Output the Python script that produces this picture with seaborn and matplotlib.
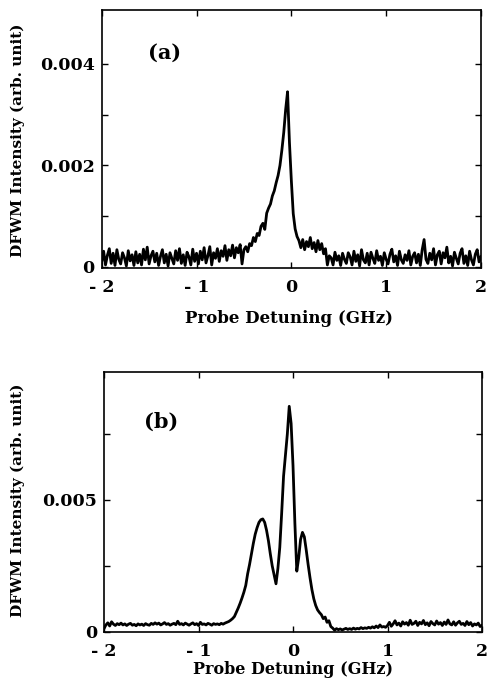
import numpy as np
import pandas as pd
import matplotlib
matplotlib.use("Agg")
import matplotlib.pyplot as plt
import seaborn as sns

# ---------------- data (intensities in units of 1e-4, arb. unit) ----------------
detuning_min, detuning_max = -2.0, 2.0   # GHz, sampled every 0.02 GHz

intensity_a_e4 = [
    1.0, 3.1, 0.4, 2.3, 3.6, 0.7, 2.7, 0.3, 3.4, 1.5,      # -2.00 .. -1.82
    0.6, 2.8, 1.8, 0.2, 3.2, 1.2, 2.4, 0.3, 3.0, 0.8,      # -1.80 .. -1.62
    2.5, 0.4, 3.5, 1.4, 3.9, 0.6, 2.2, 3.1, 1.0, 2.7,      # -1.60 .. -1.42
    0.3, 2.1, 3.4, 0.8, 2.5, 0.2, 2.8, 1.7, 0.6, 3.2,      # -1.40 .. -1.22
    1.3, 3.6, 0.7, 2.4, 0.3, 2.9, 2.0, 0.4, 3.5, 1.1,      # -1.20 .. -1.02
    2.7, 0.6, 3.1, 1.4, 3.8, 0.8, 2.2, 4.0, 0.4, 2.8,      # -1.00 .. -0.82
    1.7, 3.6, 1.1, 3.2, 2.1, 4.2, 1.3, 3.4, 2.2, 4.3,      # -0.80 .. -0.62
    1.8, 3.8, 2.8, 4.4, 0.6, 3.4, 4.0, 3.0, 4.6, 4.2,      # -0.60 .. -0.42
    5.8, 5.0, 6.6, 6.2, 8.0, 8.6, 7.4, 10.6, 11.6, 12.4,   # -0.40 .. -0.22
    14.0, 15.0, 16.6, 18.0, 20.0, 23.0, 26.5, 31.0, 34.5, 24.5,  # -0.20 .. -0.02
    17.0, 10.5, 7.5, 6.0, 5.2, 3.8, 5.4, 3.4, 5.0, 4.0,    # 0.00 .. 0.18
    5.8, 3.6, 4.8, 3.0, 5.2, 3.4, 4.6, 2.6, 3.6, 0.4,      # 0.20 .. 0.38
    2.2, 1.8, 0.4, 2.9, 1.3, 2.2, 0.3, 2.7, 1.5, 0.7,      # 0.40 .. 0.58
    2.8, 2.0, 0.4, 3.1, 1.1, 2.4, 0.2, 3.4, 1.4, 0.8,      # 0.60 .. 0.78
    2.7, 0.4, 2.9, 1.7, 0.7, 3.2, 1.3, 2.1, 0.3, 2.8,      # 0.80 .. 0.98
    1.5, 0.6, 2.5, 3.5, 1.0, 2.2, 0.3, 3.1, 1.4, 0.7,      # 1.00 .. 1.18
    2.4, 1.3, 3.2, 0.4, 2.1, 2.8, 0.8, 2.5, 0.3, 3.4,      # 1.20 .. 1.38
    5.4, 1.5, 0.7, 2.7, 1.4, 3.6, 0.4, 2.4, 3.1, 0.6,      # 1.40 .. 1.58
    2.8, 1.8, 3.9, 0.8, 2.1, 0.2, 2.9, 1.7, 0.6, 2.7,      # 1.60 .. 1.78
    3.6, 0.7, 2.2, 0.3, 3.1, 1.4, 0.4, 2.5, 3.4, 1.0,      # 1.80 .. 1.98
    2.1,                                                   # 2.00
]

intensity_b_e4 = [
    1.2, 2.6, 3.4, 2.2, 3.8, 2.9, 2.4, 3.1, 2.7, 3.3,      # -2.00 .. -1.82
    2.6, 3.0, 2.4, 2.9, 3.2, 2.5, 2.8, 2.3, 3.0, 2.6,      # -1.80 .. -1.62
    2.9, 2.4, 3.1, 2.7, 2.5, 3.2, 2.8, 3.4, 2.9, 3.3,      # -1.60 .. -1.42
    2.6, 3.0, 3.5, 2.8, 3.1, 2.5, 2.9, 3.2, 2.7, 4.0,      # -1.40 .. -1.22
    2.8, 3.1, 2.6, 3.3, 2.9, 2.5, 3.0, 3.4, 2.7, 3.1,      # -1.20 .. -1.02
    2.4, 3.6, 2.8, 3.0, 2.6, 3.2, 2.9, 2.5, 3.1, 2.8,      # -1.00 .. -0.82
    3.0, 2.7, 3.2, 2.9, 3.3, 3.6, 3.9, 4.4, 5.0, 5.8,      # -0.80 .. -0.62
    7.4, 9.0, 10.8, 12.8, 15.0, 17.6, 22.0, 25.5, 29.5, 33.5,   # -0.60 .. -0.42
    37.0, 39.5, 41.5, 42.5, 42.8, 41.5, 38.5, 34.5, 29.5, 25.0, # -0.40 .. -0.22
    21.5, 18.2, 24.0, 32.0, 45.0, 59.0, 67.0, 75.0, 85.5, 79.0, # -0.20 .. -0.02
    63.0, 41.0, 23.0, 28.0, 35.0, 37.7, 36.0, 31.0, 25.5, 20.5, # 0.00 .. 0.18
    16.0, 12.5, 10.0, 8.3, 7.3, 6.5, 5.0, 5.6, 3.6, 4.2,   # 0.20 .. 0.38
    2.0, 1.4, 0.6, 1.2, 0.8, 1.1, 0.7, 1.0, 1.3, 0.9,      # 0.40 .. 0.58
    1.2, 0.9, 1.4, 1.0, 1.3, 1.1, 1.6, 1.2, 1.5, 1.3,      # 0.60 .. 0.78
    1.7, 1.4, 1.9, 1.5, 2.2, 1.6, 2.6, 1.8, 2.0, 1.7,      # 0.80 .. 0.98
    2.4, 3.6, 2.1, 3.0, 4.2, 2.6, 3.3, 2.2, 3.8, 2.9,      # 1.00 .. 1.18
    3.5, 2.5, 4.4, 2.8, 3.2, 4.0, 2.4, 3.6, 3.0, 4.3,      # 1.20 .. 1.38
    2.7, 3.4, 2.3, 3.9, 3.1, 2.6, 4.1, 2.9, 3.5, 2.4,      # 1.40 .. 1.58
    3.7, 2.8, 4.5, 3.0, 2.6, 3.8, 2.5, 3.4, 4.0, 2.8,      # 1.60 .. 1.78
    3.2, 2.4, 3.9, 2.7, 3.5, 2.2, 3.0, 2.6, 3.3, 2.0,      # 1.80 .. 1.98
    2.5,                                                   # 2.00
]

x_ticks = [-2, -1, 0, 1, 2]
x_ticklabels = ["- 2", "- 1", "0", "1", "2"]
y_ticks_a = [0, 0.001, 0.002, 0.003, 0.004]
y_ticklabels_a = ["0", "", "0.002", "", "0.004"]
y_ticks_b = [0, 0.0025, 0.005, 0.0075]
y_ticklabels_b = ["0", "", "0.005", ""]
panel_labels = ["(a)", "(b)"]
xlabel = "Probe Detuning (GHz)"
ylabel = "DFWM Intensity (arb. unit)"

assert len(intensity_a_e4) == 201 and len(intensity_b_e4) == 201


def make_frame(vals_e4):
    det = np.linspace(detuning_min, detuning_max, len(vals_e4))
    return pd.DataFrame({"detuning": det, "intensity": np.asarray(vals_e4) * 1e-4})


df_a = make_frame(intensity_a_e4)
df_b = make_frame(intensity_b_e4)

# ---------------- style ----------------
sns.set_theme(style="ticks")
plt.rcParams["font.family"] = ["DejaVu Serif"]
plt.rcParams["font.weight"] = "bold"

fig = plt.figure(figsize=(4.89, 6.8), dpi=100)
fig.patch.set_facecolor("white")
ax_a = fig.add_axes([0.208, 0.6059, 0.7756, 0.3794])
ax_b = fig.add_axes([0.2127, 0.0701, 0.7730, 0.3828])

sns.lineplot(data=df_a, x="detuning", y="intensity", ax=ax_a,
             color="black", linewidth=2.0)
sns.lineplot(data=df_b, x="detuning", y="intensity", ax=ax_b,
             color="black", linewidth=2.0)

ax_a.set_ylim(-0.00002, 0.00506)
ax_b.set_ylim(-0.00002, 0.00985)

settings = [
    (ax_a, y_ticks_a, y_ticklabels_a, panel_labels[0], (0.167, 0.833), (-0.221, 0.496), (0.494, -0.194), 12),
    (ax_b, y_ticks_b, y_ticklabels_b, panel_labels[1], (0.150, 0.809), (-0.227, 0.506), (0.501, -0.143), 11.5),
]
for ax, yt, ytl, plabel, ppos, ylpos, xlpos, xlsize in settings:
    ax.set_facecolor("white")
    ax.set_xlim(detuning_min, detuning_max)
    ax.set_xticks(x_ticks)
    ax.set_xticklabels(x_ticklabels)
    ax.set_yticks(yt)
    ax.set_yticklabels(ytl)
    ax.tick_params(axis="both", direction="in", top=True, right=True,
                   length=4, width=1.0, color="black", labelsize=12.5,
                   labelcolor="black")
    ax.tick_params(axis="x", pad=8)
    ax.tick_params(axis="y", pad=5)
    for lab in ax.get_xticklabels() + ax.get_yticklabels():
        lab.set_fontweight("bold")
    for sp in ax.spines.values():
        sp.set_visible(True)
        sp.set_color("black")
        sp.set_linewidth(1.2)
    ax.set_xlabel(xlabel, fontsize=xlsize, fontweight="bold", color="black", va="center")
    ax.set_ylabel(ylabel, fontsize=11, fontweight="bold", color="black", va="center")
    ax.xaxis.set_label_coords(*xlpos)
    ax.yaxis.set_label_coords(*ylpos)
    ax.text(ppos[0], ppos[1], plabel, transform=ax.transAxes, fontsize=15,
            fontweight="bold", ha="center", va="center", color="black")

fig.savefig("out.png", dpi=100, facecolor="white")
